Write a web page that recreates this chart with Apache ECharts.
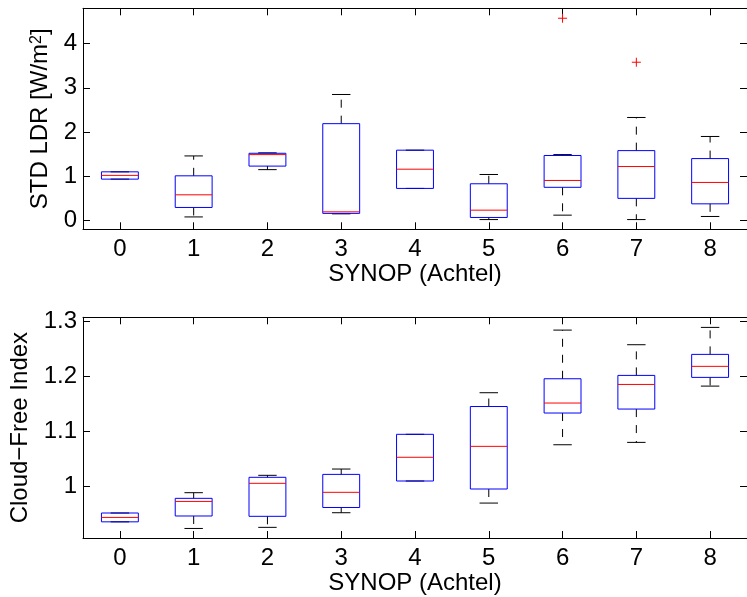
<!DOCTYPE html>
<html>
<head>
<meta charset="utf-8">
<script src="https://cdn.jsdelivr.net/npm/echarts@6/dist/echarts.min.js"></script>
<style>html,body{margin:0;padding:0;background:#fff;}#c{width:747px;height:597px;}</style>
</head>
<body>
<div id="c"></div>
<script>
// Categories (SYNOP cloud cover in eighths)
const categories = ['0','1','2','3','4','5','6','7','8'];

// Top panel: STD LDR [W/m^2] — [lowerWhisker, q1, median, q3, upperWhisker]
const stdLdrLow    = [0.935, 0.08, 1.15, 0.15, 0.725, 0.02, 0.12, 0.02, 0.09];
const stdLdrQ1     = [0.935, 0.294, 1.23, 0.16, 0.725, 0.068, 0.75, 0.50, 0.376];
const stdLdrMedian = [1.02, 0.58, 1.49, 0.195, 1.16, 0.233, 0.905, 1.22, 0.86];
const stdLdrQ3     = [1.10, 1.01, 1.52, 2.19, 1.59, 0.83, 1.47, 1.58, 1.40];
const stdLdrHigh   = [1.10, 1.46, 1.53, 2.85, 1.59, 1.04, 1.49, 2.33, 1.90];
// outliers: [categoryIndex, value]
const stdLdrOutliers = [[6, 4.575], [7, 3.58]];
const stdLdrTicks = [0, 1, 2, 3, 4];

// Bottom panel: Cloud-Free Index
const cfiLow    = [0.936, 0.924, 0.926, 0.9525, 1.010, 0.970, 1.0757, 1.080, 1.182];
const cfiQ1     = [0.936, 0.9466, 0.946, 0.962, 1.010, 0.9955, 1.1332, 1.1404, 1.1978];
const cfiMedian = [0.944, 0.973, 1.0058, 0.9895, 1.053, 1.0728, 1.1513, 1.185, 1.2178];
const cfiQ3     = [0.952, 0.9786, 1.0167, 1.022, 1.0946, 1.145, 1.1953, 1.2014, 1.2395];
const cfiHigh   = [0.952, 0.9888, 1.0203, 1.0317, 1.0946, 1.170, 1.2835, 1.257, 1.2884];
const cfiOutliers = [];
const cfiTicks = [1.0, 1.1, 1.2, 1.3];

function boxData(lo, q1, med, q3, hi) {
  return categories.map((c, i) => [i, lo[i], q1[i], med[i], q3[i], hi[i]]);
}

function renderBox(params, api) {
  const x = api.value(0);
  const pLo = api.coord([x, api.value(1)]);
  const pQ1 = api.coord([x, api.value(2)]);
  const pMed = api.coord([x, api.value(3)]);
  const pQ3 = api.coord([x, api.value(4)]);
  const pHi = api.coord([x, api.value(5)]);
  const band = api.size([1, 0])[0];
  const half = band * 0.25;
  const capHalf = band * 0.125;
  const cx = pQ1[0];
  const children = [];
  const dash = {stroke: '#000', lineWidth: 1, lineDash: [8, 8]};
  const solid = {stroke: '#000', lineWidth: 1};
  if (pHi[1] < pQ3[1] - 0.5) {
    children.push({type: 'line', shape: {x1: cx, y1: pQ3[1], x2: cx, y2: pHi[1]}, style: dash});
  }
  children.push({type: 'line', shape: {x1: cx - capHalf, y1: pHi[1], x2: cx + capHalf, y2: pHi[1]}, style: solid});
  if (pLo[1] > pQ1[1] + 0.5) {
    children.push({type: 'line', shape: {x1: cx, y1: pQ1[1], x2: cx, y2: pLo[1]}, style: dash});
  }
  children.push({type: 'line', shape: {x1: cx - capHalf, y1: pLo[1], x2: cx + capHalf, y2: pLo[1]}, style: solid});
  children.push({type: 'rect', shape: {x: cx - half, y: pQ3[1], width: half * 2, height: pQ1[1] - pQ3[1]},
    style: {fill: 'none', stroke: '#0000ff', lineWidth: 1}});
  children.push({type: 'line', shape: {x1: cx - half, y1: pMed[1], x2: cx + half, y2: pMed[1]},
    style: {stroke: '#ff0000', lineWidth: 1}});
  return {type: 'group', children: children};
}

function renderOutlier(params, api) {
  const p = api.coord([api.value(0), api.value(1)]);
  const s = 4.5;
  return {type: 'group', children: [
    {type: 'line', shape: {x1: p[0] - s, y1: p[1], x2: p[0] + s, y2: p[1]}, style: {stroke: '#ff0000', lineWidth: 1}},
    {type: 'line', shape: {x1: p[0], y1: p[1] - s, x2: p[0], y2: p[1] + s}, style: {stroke: '#ff0000', lineWidth: 1}}
  ]};
}

const FONT = 'Liberation Sans, Arial, Helvetica, sans-serif';
const FS = 24;
const axisLine = {show: true, onZero: false, lineStyle: {color: '#000', width: 1}};

function xAxes(gridIndex) {
  return [{
    type: 'category', gridIndex: gridIndex, data: categories, position: 'bottom',
    boundaryGap: true,
    axisLine: axisLine,
    axisTick: {show: true, inside: true, length: 7, alignWithLabel: true, lineStyle: {color: '#000'}},
    axisLabel: {color: '#000', fontSize: FS, fontFamily: FONT, margin: 8},
    name: 'SYNOP (Achtel)', nameLocation: 'middle', nameGap: 32,
    nameTextStyle: {color: '#000', fontSize: FS, fontFamily: FONT},
    splitLine: {show: false}
  }, {
    type: 'category', gridIndex: gridIndex, data: categories, position: 'top',
    boundaryGap: true,
    axisLine: axisLine,
    axisTick: {show: true, inside: true, length: 7, alignWithLabel: true, lineStyle: {color: '#000'}},
    axisLabel: {show: false},
    splitLine: {show: false}
  }];
}

function yAxes(gridIndex, min, max, ticks, name, gap) {
  return [{
    type: 'value', gridIndex: gridIndex, min: min, max: max, position: 'left',
    axisLine: axisLine,
    axisTick: {show: true, inside: true, length: 7, customValues: ticks, lineStyle: {color: '#000'}},
    axisLabel: {color: '#000', fontSize: FS, fontFamily: FONT, margin: 6, customValues: ticks,
      formatter: v => String(Math.round(v * 10) / 10)},
    splitLine: {show: false},
    name: name, nameLocation: 'middle', nameGap: gap, nameRotate: 90,
    nameTextStyle: {color: '#000', fontSize: FS, fontFamily: FONT,
      rich: {sup: {color: '#000', fontSize: 16, fontFamily: FONT, verticalAlign: 'top', lineHeight: 14}}}
  }, {
    type: 'value', gridIndex: gridIndex, min: min, max: max, position: 'right',
    axisLine: axisLine,
    axisTick: {show: true, inside: true, length: 7, customValues: ticks},
    axisLabel: {show: false},
    splitLine: {show: false}
  }];
}

const chart = echarts.init(document.getElementById('c'), null, {renderer: 'canvas'});
chart.setOption({
  backgroundColor: '#fff',
  animation: false,
  grid: [
    {left: 83, right: -9, top: 8.3, height: 221},
    {left: 83, right: -9, top: 317.3, height: 220.7}
  ],
  xAxis: [...xAxes(0), ...xAxes(1)],
  yAxis: [
    ...yAxes(0, -0.2, 4.8, stdLdrTicks, 'STD LDR [W/m{sup|2}]', 25),
    ...yAxes(1, 0.9067, 1.3067, cfiTicks, 'Cloud−Free Index', 46)
  ],
  series: [
    {type: 'custom', xAxisIndex: 0, yAxisIndex: 0, renderItem: renderBox,
      data: boxData(stdLdrLow, stdLdrQ1, stdLdrMedian, stdLdrQ3, stdLdrHigh), encode: {x: 0, y: [1, 2, 3, 4, 5]}},
    {type: 'custom', xAxisIndex: 0, yAxisIndex: 0, renderItem: renderOutlier,
      data: stdLdrOutliers, encode: {x: 0, y: 1}},
    {type: 'custom', xAxisIndex: 2, yAxisIndex: 2, renderItem: renderBox,
      data: boxData(cfiLow, cfiQ1, cfiMedian, cfiQ3, cfiHigh), encode: {x: 0, y: [1, 2, 3, 4, 5]}},
    {type: 'custom', xAxisIndex: 2, yAxisIndex: 2, renderItem: renderOutlier,
      data: cfiOutliers, encode: {x: 0, y: 1}}
  ]
});
</script>
</body>
</html>
